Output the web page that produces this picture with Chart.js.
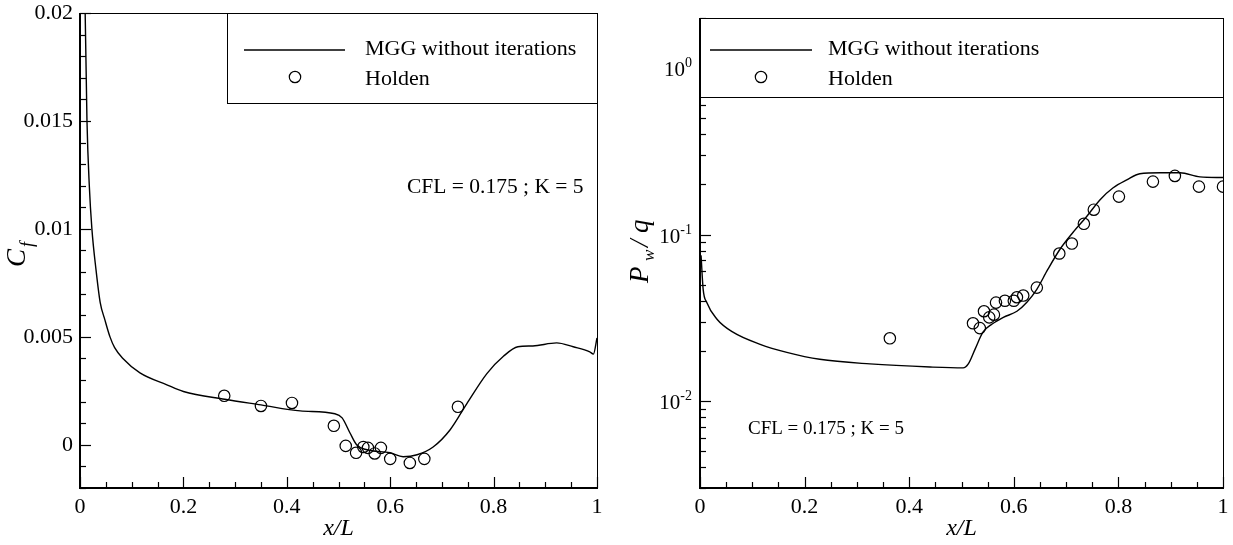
<!DOCTYPE html>
<html>
<head>
<meta charset="utf-8">
<script src="https://cdn.jsdelivr.net/npm/chart.js@4.4.1/dist/chart.umd.min.js"></script>
<style>
  html, body { margin: 0; padding: 0; background: #fff; }
  #wrap { position: relative; width: 1233px; height: 545px; }
  canvas { position: absolute; top: 0; }
</style>
</head>
<body>
<div id="wrap">
  <canvas id="cfChart" width="616" height="545" style="left:0"></canvas>
  <canvas id="pwChart" width="617" height="545" style="left:616px"></canvas>
</div>
<script>
// skin friction, computed (MGG without iterations)
const cfX = [0.008, 0.01, 0.0135, 0.018, 0.023, 0.031, 0.039, 0.048, 0.058, 0.067, 0.083, 0.116, 0.168, 0.2, 0.28, 0.35, 0.426, 0.493, 0.507, 0.522, 0.535, 0.555, 0.6, 0.625, 0.652, 0.683, 0.716, 0.748, 0.787, 0.819, 0.847, 0.876, 0.922, 0.954, 0.986, 0.993, 1.0];
const cfY = [0.024, 0.02, 0.015, 0.012, 0.01, 0.0081, 0.0066, 0.0058, 0.005, 0.0045, 0.004, 0.00333, 0.00278, 0.00247, 0.00211, 0.00185, 0.00157, 0.00144, 0.00125, 0.00056, 0.0, -0.00023, -0.00037, -0.00055, -0.00046, -0.0001, 0.0007, 0.0019, 0.0033, 0.0041, 0.00454, 0.00458, 0.00472, 0.00454, 0.00431, 0.0042, 0.00495];

// skin friction, Holden experiment
const holdenCfX = [0.279, 0.35, 0.41, 0.491, 0.514, 0.534, 0.548, 0.557, 0.57, 0.582, 0.6, 0.638, 0.666, 0.731];
const holdenCfY = [0.00227, 0.0018, 0.00194, 0.00088, -0.00005, -0.00037, -0.0001, -0.00014, -0.0004, -0.00014, -0.00065, -0.00084, -0.00065, 0.00176];

// wall pressure, computed
const pwX = [0.002, 0.006, 0.013, 0.0325, 0.063, 0.115, 0.166, 0.229, 0.325, 0.44, 0.503, 0.513, 0.526, 0.541, 0.558, 0.58, 0.606, 0.625, 0.644, 0.665, 0.688, 0.713, 0.739, 0.765, 0.79, 0.816, 0.841, 0.88, 0.918, 0.956, 1.0];
const pwY = [0.075, 0.047, 0.039, 0.031, 0.0259, 0.0219, 0.0196, 0.0178, 0.0167, 0.016, 0.0158, 0.0167, 0.0205, 0.0259, 0.0289, 0.0318, 0.0346, 0.0392, 0.0469, 0.0617, 0.0813, 0.1028, 0.128, 0.162, 0.191, 0.213, 0.232, 0.235, 0.235, 0.222, 0.22];

// wall pressure, Holden experiment
const holdenPwX = [0.363, 0.522, 0.535, 0.543, 0.553, 0.562, 0.566, 0.583, 0.6, 0.606, 0.618, 0.644, 0.687, 0.711, 0.734, 0.753, 0.801, 0.866, 0.908, 0.954, 1.0];
const holdenPwY = [0.0238, 0.0293, 0.0274, 0.0346, 0.0318, 0.033, 0.039, 0.040, 0.040, 0.042, 0.043, 0.048, 0.0769, 0.0883, 0.116, 0.141, 0.169, 0.208, 0.225, 0.194, 0.194];

const xTicks = [0, 0.2, 0.4, 0.6, 0.8, 1];
const cfTicks = [0, 0.005, 0.01, 0.015, 0.02];
const pwDecades = [0.01, 0.1, 1];

const lineLabel = 'MGG without iterations';
const pointLabel = 'Holden';
const noteText = 'CFL = 0.175 ; K = 5';

const SERIF = '"Liberation Serif", "Times New Roman", serif';

function toPoints(xs, ys) {
  return xs.map(function(x, i) { return { x: x, y: ys[i] }; });
}

function datasets(lx, ly, px, py) {
  return [
    {
      label: lineLabel,
      data: toPoints(lx, ly),
      showLine: true,
      borderColor: '#000',
      borderWidth: 1.4,
      pointRadius: 0,
      cubicInterpolationMode: 'monotone'
    },
    {
      label: pointLabel,
      data: toPoints(px, py),
      showLine: false,
      pointStyle: 'circle',
      pointRadius: 5.7,
      borderColor: '#000',
      borderWidth: 1.2,
      backgroundColor: 'rgba(0,0,0,0)'
    }
  ];
}

// frame, inward ticks, legend box and titles
function decoPlugin(opt) {
  return {
    id: 'deco',
    afterDraw(chart) {
      const ctx = chart.ctx;
      const a = chart.chartArea;
      const xs = chart.scales.x;
      const ys = chart.scales.y;
      ctx.save();
      ctx.strokeStyle = '#000';
      ctx.fillStyle = '#000';

      // thin top / right border
      ctx.lineWidth = 1;
      ctx.beginPath();
      ctx.moveTo(a.left, a.top + 0.5);
      ctx.lineTo(a.right + 0.5, a.top + 0.5);
      ctx.lineTo(a.right + 0.5, a.bottom);
      ctx.stroke();
      // heavier left / bottom axes
      ctx.lineWidth = 2;
      ctx.beginPath();
      ctx.moveTo(a.left, a.top);
      ctx.lineTo(a.left, a.bottom);
      ctx.lineTo(a.right + 1, a.bottom);
      ctx.stroke();

      ctx.lineWidth = 1.2;
      // x ticks every 0.05, majors every 0.2
      for (let i = 0; i <= 20; i++) {
        const px = Math.round(xs.getPixelForValue(i * 0.05)) + 0.5;
        const len = i % 4 === 0 ? 11 : 6;
        ctx.beginPath();
        ctx.moveTo(px, a.bottom);
        ctx.lineTo(px, a.bottom - len);
        ctx.stroke();
      }
      // y ticks
      opt.yTicks(ys).forEach(function(t) {
        const py = Math.round(ys.getPixelForValue(t.v)) + 0.5;
        if (py < a.top - 1 || py > a.bottom + 1) return;
        ctx.beginPath();
        ctx.moveTo(a.left, py);
        ctx.lineTo(a.left + (t.major ? 11 : 6), py);
        ctx.stroke();
      });

      // log tick labels with superscript
      if (opt.logLabels) {
        pwDecades.forEach(function(v) {
          const py = ys.getPixelForValue(v);
          const exp = String(Math.round(Math.log10(v)));
          ctx.font = '14px ' + SERIF;
          ctx.textAlign = 'right';
          ctx.textBaseline = 'alphabetic';
          const ew = ctx.measureText(exp).width;
          const rx = a.left - 8;
          ctx.fillText(exp, rx, py - 1);
          ctx.font = '21px ' + SERIF;
          ctx.fillText('10', rx - ew, py + 8);
        });
      }

      // legend box
      const lg = opt.legend;
      const bx = a.left + lg.dx;
      const bw = a.right - bx;
      ctx.fillStyle = '#fff';
      ctx.fillRect(bx, a.top, bw, lg.h);
      ctx.fillStyle = '#000';
      ctx.lineWidth = 1;
      ctx.strokeRect(bx + 0.5, a.top + 0.5, bw, lg.h);
      ctx.lineWidth = 1.4;
      ctx.beginPath();
      ctx.moveTo(bx + lg.lineFrom, a.top + lg.y1);
      ctx.lineTo(bx + lg.lineTo, a.top + lg.y1);
      ctx.stroke();
      ctx.lineWidth = 1.2;
      ctx.beginPath();
      ctx.arc(bx + lg.circle, a.top + lg.y2, 5.7, 0, Math.PI * 2);
      ctx.stroke();
      ctx.font = '22px ' + SERIF;
      ctx.textAlign = 'left';
      ctx.textBaseline = 'alphabetic';
      ctx.fillText(lineLabel, bx + lg.text, a.top + lg.y1 + 5);
      ctx.fillText(pointLabel, bx + lg.text, a.top + lg.y2 + 8);

      // annotation
      ctx.font = opt.note.size + 'px ' + SERIF;
      ctx.fillText(noteText, opt.note.x, opt.note.y);

      // x title
      ctx.font = 'italic 24px ' + SERIF;
      ctx.textAlign = 'center';
      ctx.fillText('x/L', (a.left + a.right) / 2, 535);

      // y title
      opt.yTitle(ctx);
      ctx.restore();
    }
  };
}

function drawCfTitle(ctx) {
  ctx.save();
  ctx.translate(25, 255);
  ctx.rotate(-Math.PI / 2);
  ctx.textAlign = 'left';
  ctx.font = 'italic 27px ' + SERIF;
  ctx.fillText('C', -12, 0);
  ctx.font = 'italic 18px ' + SERIF;
  ctx.fillText('f', 8, 8);
  ctx.restore();
}

function drawPwTitle(ctx) {
  ctx.save();
  ctx.translate(648 - 616, 283);
  ctx.rotate(-Math.PI / 2);
  ctx.textAlign = 'left';
  ctx.font = 'italic 27px ' + SERIF;
  ctx.fillText('P', 0, 0);
  ctx.font = 'italic 17px ' + SERIF;
  ctx.fillText('w', 22, 6);
  ctx.font = 'italic 27px ' + SERIF;
  ctx.fillText('/', 36, 0);
  ctx.fillText('q', 50, 0);
  ctx.restore();
}

function xScale(height) {
  return {
    type: 'linear',
    min: 0,
    max: 1,
    afterBuildTicks: function(s) { s.ticks = xTicks.map(function(v) { return { value: v }; }); },
    ticks: {
      color: '#000',
      font: { family: SERIF, size: 22 },
      padding: 6,
      maxRotation: 0,
      autoSkip: false,
      callback: function(v) { return String(Math.round(v * 10) / 10); }
    },
    grid: { display: false, drawTicks: false },
    border: { display: false },
    afterFit: function(s) { s.height = height; s.paddingLeft = 0; s.paddingRight = 0; }
  };
}

const common = {
  responsive: false,
  animation: false,
  events: [],
  plugins: { legend: { display: false }, tooltip: { enabled: false } }
};

new Chart(document.getElementById('cfChart'), {
  type: 'scatter',
  data: { datasets: datasets(cfX, cfY, holdenCfX, holdenCfY) },
  options: Object.assign({}, common, {
    layout: { padding: { top: 13, right: 19, left: 0, bottom: 0 } },
    scales: {
      x: xScale(57),
      y: {
        type: 'linear',
        min: -0.002,
        max: 0.02,
        afterBuildTicks: function(s) { s.ticks = cfTicks.map(function(v) { return { value: v }; }); },
        ticks: {
          color: '#000',
          font: { family: SERIF, size: 22 },
          padding: 7,
          callback: function(v) { return String(+v.toFixed(4)); }
        },
        grid: { display: false, drawTicks: false },
        border: { display: false },
        afterFit: function(s) { s.width = 80; s.paddingTop = 0; s.paddingBottom = 0; }
      }
    }
  }),
  plugins: [decoPlugin({
    yTicks: function() {
      const out = [];
      for (let i = -2; i <= 20; i++) out.push({ v: i * 0.001, major: i % 5 === 0 });
      return out;
    },
    logLabels: false,
    legend: { dx: 147, h: 90, lineFrom: 17, lineTo: 118, circle: 68, text: 138, y1: 37, y2: 64 },
    note: { size: 21.5, x: 407, y: 193 },
    yTitle: drawCfTitle
  })]
});

new Chart(document.getElementById('pwChart'), {
  type: 'scatter',
  data: { datasets: datasets(pwX, pwY, holdenPwX, holdenPwY) },
  options: Object.assign({}, common, {
    layout: { padding: { top: 18, right: 10, left: 0, bottom: 0 } },
    scales: {
      x: xScale(57),
      y: {
        type: 'logarithmic',
        min: 0.003,
        max: 2,
        ticks: { display: false },
        grid: { display: false, drawTicks: false },
        border: { display: false },
        afterFit: function(s) { s.width = 84; s.paddingTop = 0; s.paddingBottom = 0; }
      }
    }
  }),
  plugins: [decoPlugin({
    yTicks: function() {
      const out = [];
      for (let n = -3; n <= 0; n++) {
        for (let k = 1; k <= 9; k++) out.push({ v: k * Math.pow(10, n), major: k === 1 });
      }
      return out;
    },
    logLabels: true,
    legend: { dx: 0, h: 79, lineFrom: 10, lineTo: 112, circle: 61, text: 128, y1: 32, y2: 59 },
    note: { size: 19, x: 748 - 616, y: 434 },
    yTitle: drawPwTitle
  })]
});
</script>
</body>
</html>
